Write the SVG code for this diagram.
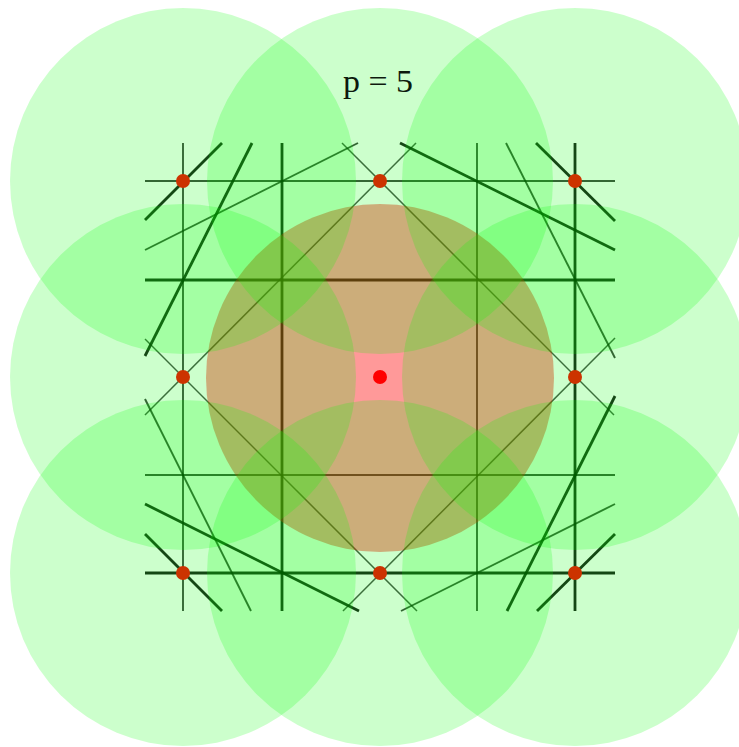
<svg xmlns="http://www.w3.org/2000/svg" width="739" height="747" viewBox="0 0 739 747">
  <style>
    .thick { stroke: #000; stroke-opacity: 0.9; stroke-width: 2.8; fill: none; }
    .thin { stroke: #000; stroke-opacity: 0.75; stroke-width: 1.9; fill: none; }
    .diag { stroke: #000; stroke-opacity: 0.7; stroke-width: 1.5; fill: none; }
    .cover { fill: #00ff00; fill-opacity: 0.2; }
    .dot { fill: #ff0000; }
    .label { font-family: "Liberation Serif", "Times New Roman", serif; font-size: 31px; fill: #0d1a0d; }
  </style>
  <rect x="0" y="0" width="739" height="747" fill="#ffffff"/>

  <g id="lines">
    <!-- grid lines -->
    <line class="thin" x1="183" y1="143" x2="183" y2="611"/>
    <line class="thick" x1="282" y1="143" x2="282" y2="611"/>
    <line class="thin" x1="477" y1="143" x2="477" y2="611"/>
    <line class="thick" x1="575" y1="143" x2="575" y2="611"/>
    <line class="thin" x1="145" y1="181" x2="615" y2="181"/>
    <line class="thick" x1="145" y1="280" x2="615" y2="280"/>
    <line class="thin" x1="145" y1="475" x2="615" y2="475"/>
    <line class="thick" x1="145" y1="573" x2="615" y2="573"/>
    <!-- slanted lines -->
    <line class="thick" x1="145" y1="220" x2="222" y2="143"/>
    <line class="thick" x1="145" y1="356" x2="252" y2="143"/>
    <line class="thin" x1="145" y1="250" x2="358" y2="143"/>
    <line class="thick" x1="400" y1="143" x2="615" y2="250"/>
    <line class="thin" x1="506" y1="143" x2="615" y2="358"/>
    <line class="thick" x1="536" y1="143" x2="615" y2="221"/>
    <line class="thin" x1="145" y1="399" x2="251" y2="611"/>
    <line class="thick" x1="145" y1="504" x2="359" y2="611"/>
    <line class="thick" x1="145" y1="534" x2="222" y2="611"/>
    <line class="thick" x1="615" y1="396" x2="507" y2="611"/>
    <line class="thin" x1="615" y1="504" x2="401" y2="611"/>
    <line class="thick" x1="615" y1="534" x2="537" y2="611"/>
    <!-- diamond -->
    <line class="diag" x1="145" y1="415" x2="416" y2="143"/>
    <line class="diag" x1="342" y1="143" x2="614" y2="415"/>
    <line class="diag" x1="615" y1="338" x2="343" y2="611"/>
    <line class="diag" x1="417" y1="611" x2="145" y2="339"/>
  </g>

  <g id="center-disc">
    <circle cx="380" cy="378" r="174" fill="#ff0000" fill-opacity="0.4"/>
  </g>

  <g id="points">
    <circle class="dot" cx="183" cy="181" r="7"/>
    <circle class="dot" cx="380" cy="181" r="7"/>
    <circle class="dot" cx="575" cy="181" r="7"/>
    <circle class="dot" cx="183" cy="377" r="7"/>
    <circle class="dot" cx="380" cy="377" r="7"/>
    <circle class="dot" cx="575" cy="377" r="7"/>
    <circle class="dot" cx="183" cy="573" r="7"/>
    <circle class="dot" cx="380" cy="573" r="7"/>
    <circle class="dot" cx="575" cy="573" r="7"/>
  </g>

  <g id="covers">
    <circle class="cover" cx="183" cy="181" r="173"/>
    <circle class="cover" cx="380" cy="181" r="173"/>
    <circle class="cover" cx="575" cy="181" r="173"/>
    <circle class="cover" cx="183" cy="377" r="173"/>
    <circle class="cover" cx="575" cy="377" r="173"/>
    <circle class="cover" cx="183" cy="573" r="173"/>
    <circle class="cover" cx="380" cy="573" r="173"/>
    <circle class="cover" cx="575" cy="573" r="173"/>
  </g>

  <g id="title">
    <text class="label" x="343" y="92" textLength="70" lengthAdjust="spacingAndGlyphs">p = 5</text>
  </g>
</svg>
